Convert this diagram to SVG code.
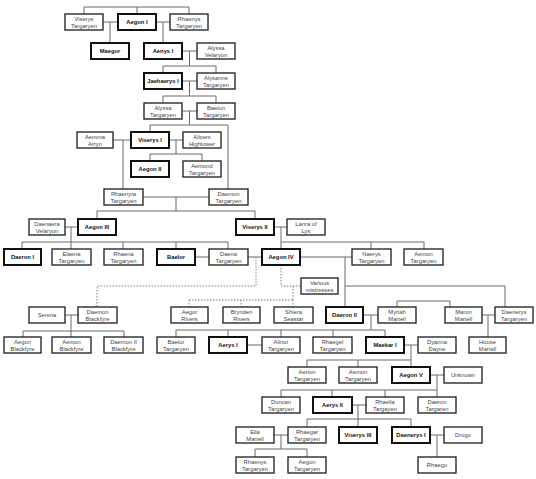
<svg xmlns="http://www.w3.org/2000/svg" width="536" height="479" viewBox="0 0 536 479">
<style>
.bg{fill:#fff}
.ln{fill:none;stroke:#6a6a6a;stroke-width:1}
.ds{fill:none;stroke:#808080;stroke-width:1;stroke-dasharray:1.5,1.5}
.n rect{fill:#fff;stroke:#2a2a2a;stroke-width:1.4}
.b rect{fill:#fff;stroke:#111;stroke-width:2}
text{font-family:"Liberation Sans",Arial,sans-serif;font-size:5.8px;text-anchor:middle}
.n text{fill:#444}
.b text{fill:#111;font-weight:bold}
</style>
<rect class="bg" x="0" y="0" width="536" height="479"/>
<g id="connectors">
<path class="ln" d="M84,14 V7 H189 V14 M137,7 V14
M103,22 H118 M110,22 V43
M156,22 H170 M163,22 V43
M182,51 H197 M189.5,51 V66 M163,66 H216 M163,66 V73 M216,66 V73
M182,81 H197 M189.5,81 V96 M163,96 H216 M163,96 V103 M216,96 V103
M182,111 H197 M189.5,111 V125 M150,125 H228 M150,125 V132 M228,125 V189
M113,140 H131 M123,140 V189
M169,140 H183 M176,140 V154 M150,154 H202 M150,154 V161 M202,154 V161
M143,197 H209 M176,197 V211 M97,211 H255 M97,211 V219 M255,211 V219
M65,227 H78 M71,227 V249 M22,242 H228 M22,242 V249 M123,242 V249 M176,242 V249 M228,242 V249
M274,227 H287 M281,227 V249 M281,242 H424 M371,242 V249 M424,242 V249
M195,257 H209 M247,257 H262
M300,257 H352 M345,257 V307 M345,286 H505 V307
M64,315 H78 M71,315 V337 M23,331 H124 M23,331 V337 M124,331 V337
M363,315 H378 M371,315 V330 M176,330 H385 M176,330 V337 M228,330 V337 M281,330 V337 M333,330 V337 M385,330 V337
M397,301 H450 M397,301 V307 M450,301 V307
M482,315 H495 M488,315 V337
M247,345 H262
M404,345 H418 M411,345 V367 M307,360 H411 M307,360 V367 M358,360 V367
M430,375 H444 M437,375 V397 M281,390 H437 M281,390 V397 M332,390 V397 M385,390 V397
M352,405 H366 M358,405 V427 M307,419 H411 M307,419 V427 M411,419 V427
M274,435 H288 M281,435 V449 M255,449 H307 M255,449 V457 M307,449 V457
M430,435 H444 M437,435 V457"/>
<path class="ds" d="M256,257 V286 H97 V307
M281,265 V286 H301
M293,286 V300 M189,300 H293 M189,300 V307 M241,300 V307 M293,300 V307"/>
</g>

<g id="viserys-targaryen" class="n"><rect x="65" y="14" width="38" height="16"/><text x="84" y="21">Viserys</text><text x="84" y="27.5">Targaryen</text></g>
<g id="aegon-i" class="b"><rect x="118" y="14" width="38" height="16"/><text x="137" y="24">Aegon I</text></g>
<g id="rhaenys-targaryen" class="n"><rect x="170" y="14" width="38" height="16"/><text x="189" y="21">Rhaenys</text><text x="189" y="27.5">Targaryen</text></g>

<g id="maegor" class="b"><rect x="91" y="43" width="38" height="16"/><text x="110" y="53">Maegor</text></g>
<g id="aenys-i" class="b"><rect x="144" y="43" width="38" height="16"/><text x="163" y="53">Aenys I</text></g>
<g id="alyssa-velaryon" class="n"><rect x="197" y="43" width="38" height="16"/><text x="216" y="50">Alyssa</text><text x="216" y="56.5">Velaryon</text></g>

<g id="jaehaerys-i" class="b"><rect x="144" y="73" width="38" height="16"/><text x="163" y="83">Jaehaerys I</text></g>
<g id="alysanne-targaryen" class="n"><rect x="197" y="73" width="38" height="16"/><text x="216" y="80">Alysanne</text><text x="216" y="86.5">Targaryen</text></g>

<g id="alyssa-targaryen" class="n"><rect x="144" y="103" width="38" height="16"/><text x="163" y="110">Alyssa</text><text x="163" y="116.5">Targaryen</text></g>
<g id="baelon-targaryen" class="n"><rect x="197" y="103" width="38" height="16"/><text x="216" y="110">Baelon</text><text x="216" y="116.5">Targaryen</text></g>

<g id="aemma-arryn" class="n"><rect x="77" y="132" width="36" height="16"/><text x="95" y="139">Aemma</text><text x="95" y="145.5">Arryn</text></g>
<g id="viserys-i" class="b"><rect x="131" y="132" width="38" height="16"/><text x="150" y="142">Viserys I</text></g>
<g id="alicent-hightower" class="n"><rect x="183" y="132" width="38" height="16"/><text x="202" y="139">Alicent</text><text x="202" y="145.5">Hightower</text></g>

<g id="aegon-ii" class="b"><rect x="131" y="161" width="38" height="16"/><text x="150" y="171">Aegon II</text></g>
<g id="aemond-targaryen" class="n"><rect x="183" y="161" width="38" height="16"/><text x="202" y="168">Aemond</text><text x="202" y="174.5">Targaryen</text></g>

<g id="rhaenyra-targaryen" class="n"><rect x="104" y="189" width="39" height="16"/><text x="123.5" y="196">Rhaenyra</text><text x="123.5" y="202.5">Targaryen</text></g>
<g id="daemon-targaryen" class="n"><rect x="209" y="189" width="39" height="16"/><text x="228.5" y="196">Daemon</text><text x="228.5" y="202.5">Targaryen</text></g>

<g id="daenaera-velaryon" class="n"><rect x="29" y="219" width="36" height="16"/><text x="47" y="226">Daenaera</text><text x="47" y="232.5">Velaryon</text></g>
<g id="aegon-iii" class="b"><rect x="78" y="219" width="38" height="16"/><text x="97" y="229">Aegon III</text></g>
<g id="viserys-ii" class="b"><rect x="236" y="219" width="38" height="16"/><text x="255" y="229">Viserys II</text></g>
<g id="lanra-of-lys" class="n"><rect x="287" y="219" width="38" height="16"/><text x="306" y="226">Lanra of</text><text x="306" y="232.5">Lys</text></g>

<g id="daeron-i" class="b"><rect x="4" y="249" width="37" height="16"/><text x="22.5" y="259">Daeron I</text></g>
<g id="elaena-targaryen" class="n"><rect x="52" y="249" width="39" height="16"/><text x="71.5" y="256">Elaena</text><text x="71.5" y="262.5">Targaryen</text></g>
<g id="rhaena-targaryen" class="n"><rect x="104" y="249" width="39" height="16"/><text x="123.5" y="256">Rhaena</text><text x="123.5" y="262.5">Targaryen</text></g>
<g id="baelor" class="b"><rect x="157" y="249" width="38" height="16"/><text x="176" y="259">Baelor</text></g>
<g id="daena-targaryen" class="n"><rect x="209" y="249" width="39" height="16"/><text x="228.5" y="256">Daena</text><text x="228.5" y="262.5">Targaryen</text></g>
<g id="aegon-iv" class="b"><rect x="262" y="249" width="38" height="16"/><text x="281" y="259">Aegon IV</text></g>
<g id="naerys-targaryen" class="n"><rect x="352" y="249" width="39" height="16"/><text x="371.5" y="256">Naerys</text><text x="371.5" y="262.5">Targaryen</text></g>
<g id="aemon-targaryen-1" class="n"><rect x="404" y="249" width="39" height="16"/><text x="423.5" y="256">Aemon</text><text x="423.5" y="262.5">Targaryen</text></g>

<g id="various-mistresses" class="n"><rect x="301" y="278" width="37" height="16"/><text x="319.5" y="285">Various</text><text x="319.5" y="291.5">mistresses</text></g>

<g id="serena" class="n"><rect x="29" y="307" width="36" height="16"/><text x="47" y="317">Serena</text></g>
<g id="daemon-blackfyre" class="n"><rect x="78" y="307" width="39" height="16"/><text x="97.5" y="314">Daemon</text><text x="97.5" y="320.5">Blackfyre</text></g>
<g id="aegor-rivers" class="n"><rect x="171" y="307" width="37" height="16"/><text x="189.5" y="314">Aegor</text><text x="189.5" y="320.5">Rivers</text></g>
<g id="brynden-rivers" class="n"><rect x="223" y="307" width="37" height="16"/><text x="241.5" y="314">Brynden</text><text x="241.5" y="320.5">Rivers</text></g>
<g id="shiera-seastar" class="n"><rect x="274" y="307" width="39" height="16"/><text x="293.5" y="314">Shiera</text><text x="293.5" y="320.5">Seastar</text></g>
<g id="daeron-ii" class="b"><rect x="326" y="307" width="37" height="16"/><text x="344.5" y="317">Daeron II</text></g>
<g id="myriah-martell" class="n"><rect x="378" y="307" width="38" height="16"/><text x="397" y="314">Myriah</text><text x="397" y="320.5">Martell</text></g>
<g id="maron-martell" class="n"><rect x="445" y="307" width="37" height="16"/><text x="463.5" y="314">Maron</text><text x="463.5" y="320.5">Martell</text></g>
<g id="daenerys-targaryen" class="n"><rect x="495" y="307" width="38" height="16"/><text x="514" y="314">Daenerys</text><text x="514" y="320.5">Targaryen</text></g>

<g id="aegon-blackfyre" class="n"><rect x="4" y="337" width="37" height="16"/><text x="22.5" y="344">Aegon</text><text x="22.5" y="350.5">Blackfyre</text></g>
<g id="aemon-blackfyre" class="n"><rect x="52" y="337" width="39" height="16"/><text x="71.5" y="344">Aemon</text><text x="71.5" y="350.5">Blackfyre</text></g>
<g id="daemon-ii-blackfyre" class="n"><rect x="104" y="337" width="39" height="16"/><text x="123.5" y="344">Daemon II</text><text x="123.5" y="350.5">Blackfyre</text></g>
<g id="baelor-targaryen" class="n"><rect x="157" y="337" width="38" height="16"/><text x="176" y="344">Baelor</text><text x="176" y="350.5">Targaryen</text></g>
<g id="aerys-i" class="b"><rect x="209" y="337" width="38" height="16"/><text x="228" y="347">Aerys I</text></g>
<g id="alinor-targaryen" class="n"><rect x="262" y="337" width="38" height="16"/><text x="281" y="344">Alinor</text><text x="281" y="350.5">Targaryen</text></g>
<g id="rhaegel-targaryen" class="n"><rect x="313" y="337" width="39" height="16"/><text x="332.5" y="344">Rhaegel</text><text x="332.5" y="350.5">Targaryen</text></g>
<g id="maekar-i" class="b"><rect x="366" y="337" width="38" height="16"/><text x="385" y="347">Maekar I</text></g>
<g id="dyanna-dayne" class="n"><rect x="418" y="337" width="38" height="16"/><text x="437" y="344">Dyanna</text><text x="437" y="350.5">Dayne</text></g>
<g id="house-martell" class="n"><rect x="469" y="337" width="37" height="16"/><text x="487.5" y="344">House</text><text x="487.5" y="350.5">Martell</text></g>

<g id="aerion-targaryen" class="n"><rect x="288" y="367" width="38" height="16"/><text x="307" y="374">Aerion</text><text x="307" y="380.5">Targaryen</text></g>
<g id="aemon-targaryen-2" class="n"><rect x="339" y="367" width="38" height="16"/><text x="358" y="374">Aemon</text><text x="358" y="380.5">Targaryen</text></g>
<g id="aegon-v" class="b"><rect x="392" y="367" width="38" height="16"/><text x="411" y="377">Aegon V</text></g>
<g id="unknown" class="n"><rect x="444" y="367" width="38" height="16"/><text x="463" y="377">Unknown</text></g>

<g id="duncan-targaryen" class="n"><rect x="262" y="397" width="38" height="16"/><text x="281" y="404">Duncan</text><text x="281" y="410.5">Targaryen</text></g>
<g id="aerys-ii" class="b"><rect x="313" y="397" width="39" height="16"/><text x="332.5" y="407">Aerys II</text></g>
<g id="rhaella-targaryen" class="n"><rect x="366" y="397" width="38" height="16"/><text x="385" y="404">Rhaella</text><text x="385" y="410.5">Targayen</text></g>
<g id="daeron-targaren" class="n"><rect x="418" y="397" width="38" height="16"/><text x="437" y="404">Daeron</text><text x="437" y="410.5">Targaren</text></g>

<g id="ella-martell" class="n"><rect x="236" y="427" width="38" height="16"/><text x="255" y="434">Ella</text><text x="255" y="440.5">Martell</text></g>
<g id="rhaegar-targaryen" class="n"><rect x="288" y="427" width="38" height="16"/><text x="307" y="434">Rhaegar</text><text x="307" y="440.5">Targaryen</text></g>
<g id="viserys-iii" class="b"><rect x="339" y="427" width="38" height="16"/><text x="358" y="437">Viserys III</text></g>
<g id="daenerys-i" class="b"><rect x="392" y="427" width="38" height="16"/><text x="411" y="437">Daenerys I</text></g>
<g id="drogo" class="n"><rect x="444" y="427" width="38" height="16"/><text x="463" y="437">Drogo</text></g>

<g id="rhaenys-targaryen-2" class="n"><rect x="236" y="457" width="38" height="16"/><text x="255" y="464">Rhaenys</text><text x="255" y="470.5">Targaryen</text></g>
<g id="aegon-targaryen" class="n"><rect x="288" y="457" width="38" height="16"/><text x="307" y="464">Aegon</text><text x="307" y="470.5">Targaryen</text></g>
<g id="rhaego" class="n"><rect x="418" y="457" width="38" height="16"/><text x="437" y="467">Rhaego</text></g>
</svg>
